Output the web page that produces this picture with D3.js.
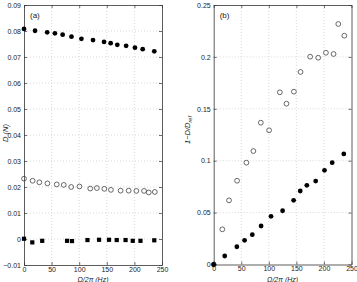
<!DOCTYPE html>
<html><head><meta charset="utf-8">
<script src="https://cdn.jsdelivr.net/npm/d3@7"></script>
<style>
html,body{margin:0;padding:0;background:#fff;}
svg{display:block;font-family:"Liberation Sans",Arial,sans-serif;}
</style></head>
<body><svg id="c" width="357" height="282"></svg>
<script>
// ---- data ----
const xTicks = [0, 50, 100, 150, 200, 250];
const yTicksA = [-0.01, 0, 0.01, 0.02, 0.03, 0.04, 0.05, 0.06, 0.07, 0.08, 0.09];
const yTicksB = [0, 0.05, 0.1, 0.15, 0.2, 0.25];

// filled-circle series (frequency Hz)
const freqFilled = [0, 20, 42, 56, 70, 86, 104, 125, 145, 157, 169, 185, 201, 215, 236];
const dragFilled = [0.0808, 0.0801, 0.0795, 0.0791, 0.0786, 0.0778, 0.0770, 0.0765, 0.0758, 0.0753, 0.0747, 0.0743, 0.0736, 0.0730, 0.0722];
const redFilled = [0, 0.0082, 0.0171, 0.0233, 0.0287, 0.0371, 0.0464, 0.0518, 0.0618, 0.0708, 0.0763, 0.0804, 0.0907, 0.0981, 0.1065];

// open-circle series
const freqOpen = [0, 15.6, 27.8, 42.4, 59.3, 72, 85.5, 100.5, 120, 132, 145.5, 157.5, 175, 189.6, 203.6, 217.5, 226, 237];
const dragOpen = [0.0232, 0.0224, 0.0218, 0.0214, 0.0210, 0.0208, 0.0200, 0.0202, 0.0194, 0.0196, 0.0193, 0.0189, 0.0186, 0.0186, 0.0185, 0.0185, 0.0179, 0.0181];
const redOpen = [0, 0.0339, 0.0618, 0.0807, 0.0981, 0.1093, 0.1366, 0.1293, 0.1659, 0.1549, 0.1665, 0.1855, 0.2002, 0.1992, 0.2040, 0.2028, 0.2317, 0.2204];

// square series
const freqSquare = [0, 15, 33, 78, 87, 115, 136, 154, 168, 184, 197, 211, 236];
const dragSquare = [0.0001, -0.0013, -0.0007, -0.0007, -0.0008, -0.0004, -0.0003, -0.0003, -0.0004, -0.0004, -0.0007, -0.0007, -0.0005];

const svg = d3.select("#c");

function panel(opts) {
  const {x0, x1, y0, y1, yDomain, yTicks, yFmt, label} = opts;
  const x = d3.scaleLinear().domain([0, 250]).range([x0, x1]);
  const y = d3.scaleLinear().domain(yDomain).range([y1, y0]);
  const g = svg.append("g");
  // grid
  g.selectAll(".gx").data(xTicks.slice(1, -1)).join("line")
    .attr("x1", d => x(d)).attr("x2", d => x(d)).attr("y1", y0).attr("y2", y1)
    .attr("stroke", "#c8c8c8").attr("stroke-width", 0.7).attr("stroke-dasharray", "1,2");
  g.selectAll(".gy").data(yTicks.slice(1, -1)).join("line")
    .attr("y1", d => y(d)).attr("y2", d => y(d)).attr("x1", x0).attr("x2", x1)
    .attr("stroke", "#c8c8c8").attr("stroke-width", 0.7).attr("stroke-dasharray", "1,2");
  // axes with inward ticks
  const ax = (gen, tr) => g.append("g").attr("transform", tr).call(gen)
    .call(s => s.select(".domain").attr("stroke", "#333").attr("stroke-width", 0.8))
    .call(s => s.selectAll(".tick line").attr("stroke", "#333").attr("stroke-width", 0.7))
    .call(s => s.selectAll(".tick text").attr("fill", "#222").style("font-size", "7px"));
  ax(d3.axisBottom(x).tickValues(xTicks).tickSizeInner(-3).tickSizeOuter(0).tickPadding(2).tickFormat(d3.format("d")), `translate(0,${y1})`);
  ax(d3.axisTop(x).tickValues(xTicks).tickSizeInner(-3).tickSizeOuter(0).tickFormat(""), `translate(0,${y0})`);
  ax(d3.axisLeft(y).tickValues(yTicks).tickSizeInner(-3).tickSizeOuter(0).tickPadding(3).tickFormat(yFmt), `translate(${x0},0)`);
  ax(d3.axisRight(y).tickValues(yTicks).tickSizeInner(-3).tickSizeOuter(0).tickFormat(""), `translate(${x1},0)`);
  // panel letter
  g.append("text").attr("x", x0 + 6).attr("y", y0 + 13).attr("font-size", "8px").attr("fill", "#222").text(label);
  // x label
  g.append("text").attr("x", (x0 + x1) / 2).attr("y", 281.5).attr("text-anchor", "middle")
    .attr("font-size", "7px").attr("font-style", "italic").attr("fill", "#222").text("Ω/2π (Hz)");
  return {g, x, y};
}

// panel (a)
const A = panel({x0: 24, x1: 162, y0: 5, y1: 265, yDomain: [-0.01, 0.09], yTicks: yTicksA,
  yFmt: d => d === 0 ? "0" : (d < 0 ? "\u22120.01" : d3.format(".2f")(d)), label: "(a)"});
A.g.append("text").attr("transform", "translate(8,133) rotate(-90)").attr("text-anchor", "middle")
  .attr("font-size", "7.5px").attr("font-style", "italic").attr("fill", "#222").text("D (N)");

A.g.selectAll(".fa").data(freqFilled).join("circle")
  .attr("cx", d => A.x(d)).attr("cy", (d, i) => A.y(dragFilled[i])).attr("r", 2.4).attr("fill", "#000");
A.g.selectAll(".oa").data(freqOpen).join("circle")
  .attr("cx", d => A.x(d)).attr("cy", (d, i) => A.y(dragOpen[i])).attr("r", 2.4)
  .attr("fill", "none").attr("stroke", "#444").attr("stroke-width", 0.8);
A.g.selectAll(".sa").data(freqSquare).join("rect")
  .attr("x", d => A.x(d) - 2.1).attr("y", (d, i) => A.y(dragSquare[i]) - 2.1).attr("width", 4.2).attr("height", 4.2).attr("fill", "#000");

// panel (b)
const B = panel({x0: 213.7, x1: 351.5, y0: 5, y1: 264.5, yDomain: [0, 0.25], yTicks: yTicksB,
  yFmt: d => d === 0 ? "0" : String(d), label: "(b)"});
const lab = B.g.append("text").attr("transform", "translate(190,130) rotate(-90)").attr("text-anchor", "middle")
  .attr("font-size", "7.5px").attr("font-style", "italic").attr("fill", "#222");
lab.append("tspan").text("1\u2212D/D");
lab.append("tspan").attr("font-size", "5.5px").attr("dy", 2).text("ref");

B.g.selectAll(".ob").data(freqOpen).join("circle")
  .attr("cx", d => B.x(d)).attr("cy", (d, i) => B.y(redOpen[i])).attr("r", 2.4)
  .attr("fill", "none").attr("stroke", "#444").attr("stroke-width", 0.8);
B.g.selectAll(".fb").data(freqFilled).join("circle")
  .attr("cx", d => B.x(d)).attr("cy", (d, i) => B.y(redFilled[i])).attr("r", 2.4).attr("fill", "#000");
</script></body></html>
